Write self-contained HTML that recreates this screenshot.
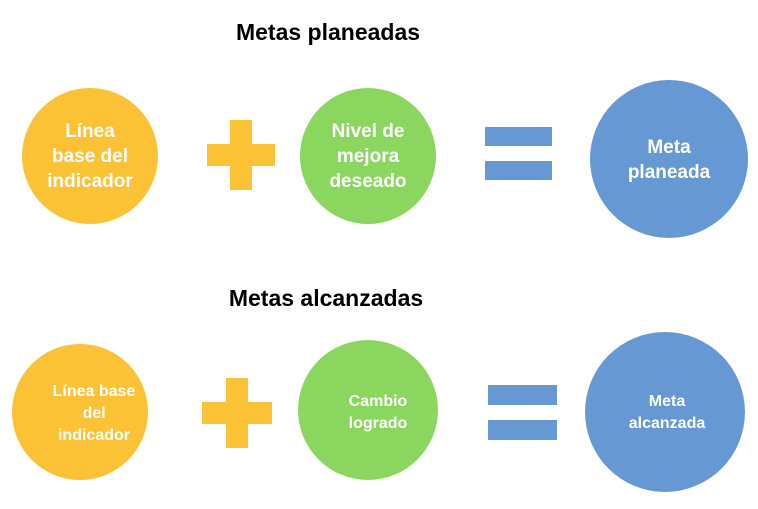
<!DOCTYPE html>
<html><head><meta charset="utf-8"><style>
body{margin:0;width:758px;height:504px;background:#fff;overflow:hidden}
</style></head><body>
<svg width="758" height="504" xmlns="http://www.w3.org/2000/svg" font-family="Liberation Sans, sans-serif" font-weight="bold">
<text x="328" y="40" font-size="23" text-anchor="middle" fill="#000">Metas planeadas</text>
<text x="326" y="306" font-size="23" text-anchor="middle" fill="#000">Metas alcanzadas</text>
<g fill="#FBC235">
<circle cx="90" cy="156" r="68"/>
<rect x="207" y="144" width="68" height="22"/><rect x="230" y="120" width="22" height="70"/>
<circle cx="80" cy="412" r="68"/>
<rect x="202" y="402" width="70" height="22"/><rect x="226" y="378" width="22" height="70"/>
</g>
<g fill="#8AD65E"><circle cx="368" cy="156" r="68"/><circle cx="368" cy="410" r="70"/></g>
<g fill="#6699D3">
<circle cx="669" cy="159" r="79"/><circle cx="665" cy="412" r="80"/>
<rect x="485" y="127" width="67" height="19"/><rect x="485" y="161" width="67" height="19"/>
<rect x="488" y="385" width="69" height="20"/><rect x="488" y="420" width="69" height="20"/>
</g>
<g fill="#fff" text-anchor="middle" font-size="19">
<text x="90" y="137">Línea</text><text x="90" y="162">base del</text><text x="90" y="187">indicador</text>
<text x="368" y="137">Nivel de</text><text x="368" y="162">mejora</text><text x="368" y="187">deseado</text>
<text x="669" y="153">Meta</text><text x="669" y="178">planeada</text>
</g>
<g fill="#fff" text-anchor="middle" font-size="16">
<text x="94" y="396">Línea base</text><text x="94" y="418">del</text><text x="94" y="440">indicador</text>
<text x="378" y="406">Cambio</text><text x="378" y="428">logrado</text>
<text x="667" y="406">Meta</text><text x="667" y="428">alcanzada</text>
</g>
</svg>
</body></html>
